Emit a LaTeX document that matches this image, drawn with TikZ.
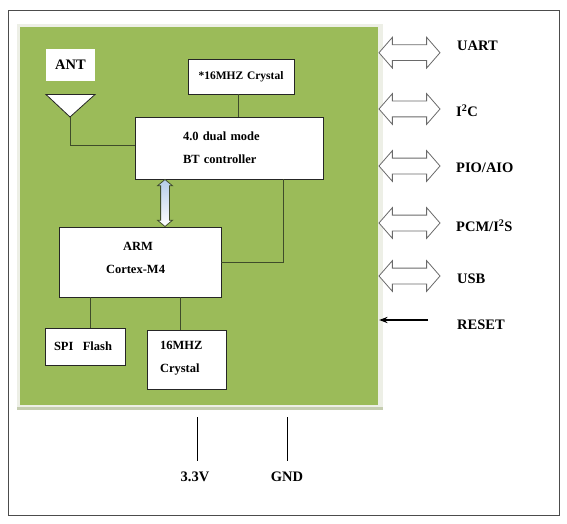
\documentclass[tikz,border=0pt]{standalone}
\usepackage{fontspec}
\setmainfont{Liberation Serif}
\usetikzlibrary{shapes.arrows,arrows.meta,calc}
\definecolor{boardgreen}{HTML}{9BBB59}
\definecolor{boardhalo}{HTML}{EDEFE6}
\definecolor{boardedge}{HTML}{C5CDB0}
\definecolor{wiregreen}{HTML}{3F4C2A}
\definecolor{linkblue}{HTML}{B4CDE8}
\definecolor{portgray}{HTML}{6A6A6A}
\tikzset{
	blockbox/.style={draw=black!85, line width=0.8pt, fill=white, inner ysep=0pt, align=left, font=\fontsize{12.5}{23}\selectfont\bfseries},
	wire/.style={draw=wiregreen, line width=1pt},
	portarrow/.style={double arrow, draw=portgray, line width=0.8pt, fill=white, inner xsep=0pt, inner ysep=7.5pt, minimum height=61pt, double arrow head extend=7.5pt, double arrow tip angle=98},
	portlabel/.style={anchor=west, inner sep=0pt, font=\fontsize{14.5}{16}\selectfont\bfseries},
}
\begin{document}
\begin{tikzpicture}[x=1pt, y=-1pt, >=Stealth]
	\useasboundingbox (0,0) rectangle (567,524);
	\draw[line width=1pt, draw=black!70] (8,11) rectangle (559,515);
	% board with its pale rim
	\fill[boardedge] (17,26) rectangle (383,410);
	\fill[boardhalo] (17,24) rectangle (383,407);
	\node[fill=boardgreen, inner sep=0pt, minimum width=358pt, minimum height=378pt] (board) at (199,216) {};
	% antenna
	\node[fill=white, inner sep=0pt, minimum width=49pt, minimum height=32pt, font=\fontsize{14.5}{16}\selectfont\bfseries] (ant) at (70.5,65) {ANT};
	\coordinate (anttip) at (70,117);
	\draw[draw=black!85, line width=0.8pt, fill=white] (46,94.5) -- (95,94.5) -- (anttip) -- cycle;
	% blocks
	\node[blockbox, minimum height=35pt, text width=100pt, inner xsep=3pt, align=center, font=\fontsize{11.5}{23}\selectfont\bfseries] (xtalbt) at (241,76.5) {*16MHZ Crystal};
	\node[blockbox, minimum height=62pt, text width=92pt, inner xsep=48pt] (btctrl) at (229,148) {4.0 dual mode\\BT controller};
	\node[blockbox, minimum height=70pt, text width=68pt, inner xsep=47pt] (arm) at (140,262) {\hspace*{17pt}ARM\\Cortex-M4\\[-14pt]\mbox{}};
	\node[blockbox, minimum height=37pt, text width=62pt, inner xsep=9pt] (spi) at (85,346.5) {SPI\hspace{0.75em}Flash};
	\node[blockbox, minimum height=59pt, text width=53pt, inner xsep=13pt] (xtalarm) at (186.5,359.5) {\mbox{}\\[-17pt]16MHZ\\Crystal};
	% wires
	\draw[wire] ([xshift=-3pt]xtalbt.south) -- ([xshift=-3pt]xtalbt.south |- btctrl.north);
	\draw[wire] (anttip) |- ([yshift=3pt]btctrl.west);
	\draw[wire] ([xshift=54pt]btctrl.south) |- (arm.east);
	\draw[wire] ([xshift=5pt]spi.north) -- ([xshift=5pt]spi.north |- arm.south);
	\draw[wire] ([xshift=-6.5pt]xtalarm.north) -- ([xshift=-6.5pt]xtalarm.north |- arm.south);
	\node[double arrow, rotate=90, draw=wiregreen, line width=0.8pt, top color=linkblue, bottom color=white, inner xsep=0pt, inner ysep=4pt, minimum height=47pt, double arrow head extend=3pt, double arrow tip angle=100] (cpulink) at (165,203) {};
	% ports on the right
	\foreach \y/\ly/\lx/\nm/\txt in {52.7/46/457/uart/UART, 109/111/456/iic/{I\textsuperscript{2}C}, 166/168/456/pio/{PIO/AIO}, 223/226/456/pcm/{PCM/I\textsuperscript{2}S}, 276/279/457/usb/USB}{
		\node[portarrow] (\nm arrow) at (409.5,\y) {};
		\node[portlabel] (\nm) at (\lx,\ly) {\txt};
	}
	\node[portlabel] (reset) at (457,325) {RESET};
	\coordinate (resetend) at (428,320);
	\draw[->, line width=1.2pt] (resetend) -- ($(board.east |- resetend)+(1,0)$);
	% supply pins
	\node[portlabel, anchor=center] (vcc) at (195,477) {3.3V};
	\node[portlabel, anchor=center] (gnd) at (287,477) {GND};
	\coordinate (vcctop) at (197,417);
	\coordinate (vccend) at (197,461);
	\coordinate (gndtop) at (287,417);
	\coordinate (gndend) at (287,461);
	\draw[line width=1pt] (vcctop) -- (vccend);
	\draw[line width=1pt] (gndtop) -- (gndend);
\end{tikzpicture}
\end{document}
